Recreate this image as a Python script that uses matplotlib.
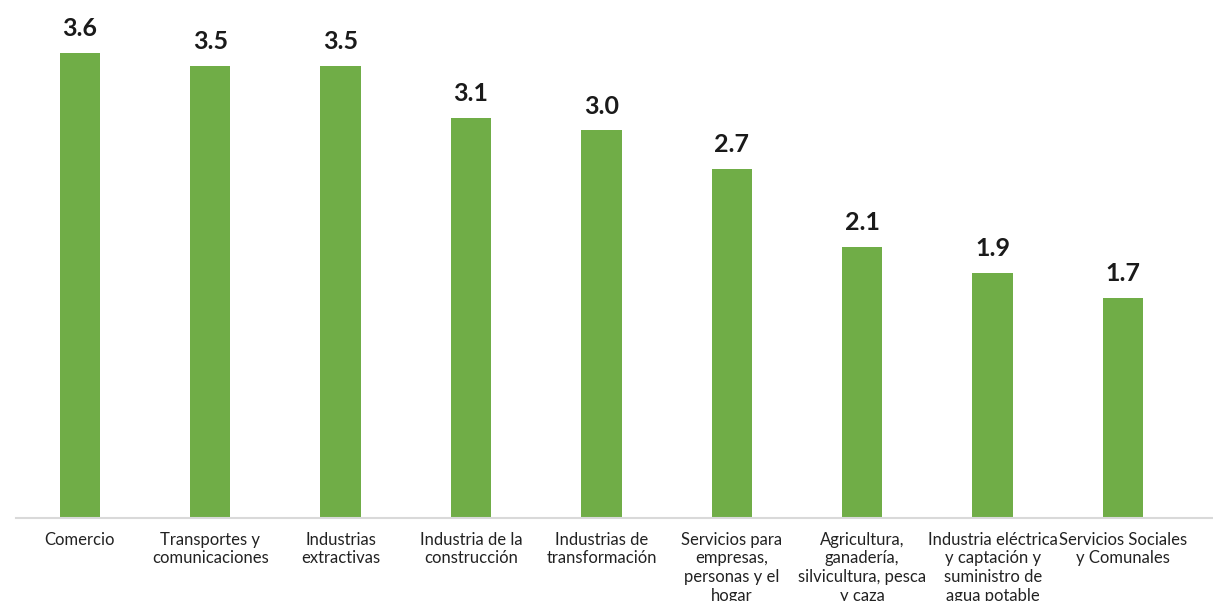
import matplotlib
matplotlib.use("Agg")
import matplotlib.pyplot as plt

categories = ["Comercio", "Transportes y\ncomunicaciones", "Industrias\nextractivas",
              "Industria de la\nconstrucción", "Industrias de\ntransformación",
              "Servicios para\nempresas,\npersonas y el\nhogar",
              "Agricultura,\nganadería,\nsilvicultura, pesca\ny caza",
              "Industria eléctrica\ny captación y\nsuministro de\nagua potable",
              "Servicios Sociales\ny Comunales"]
values = [3.6, 3.5, 3.5, 3.1, 3.0, 2.7, 2.1, 1.9, 1.7]
value_labels = ["3.6", "3.5", "3.5", "3.1", "3.0", "2.7", "2.1", "1.9", "1.7"]

plt.rcParams['font.family'] = ['Lato', 'DejaVu Sans']

fig = plt.figure(figsize=(12.13, 6.01), dpi=100)
ax = fig.add_axes([16/1213, (601-518)/601, 1 - 16/1213, 518/601])
x = list(range(len(values)))
ax.bar(x, values, width=0.31, color="#70AD47", zorder=2)
for xi, v, lab in zip(x, values, value_labels):
    ax.text(xi, v + 0.1, lab, ha="center", va="bottom", fontsize=18,
            fontweight="bold", color="#1a1a1a")
ax.set_xlim(-0.49, 8.69)
ax.set_ylim(0, 4.01)
ax.set_yticks([])
ax.set_xticks(x)
ax.set_xticklabels(categories, fontsize=12, color="#222222", linespacing=1.2)
ax.tick_params(axis="x", length=0, pad=10)
for s in ["top", "right", "left"]:
    ax.spines[s].set_visible(False)
ax.spines["bottom"].set_color("#D9D9D9")
ax.spines["bottom"].set_linewidth(1.5)
fig.savefig("out.png", dpi=100)
